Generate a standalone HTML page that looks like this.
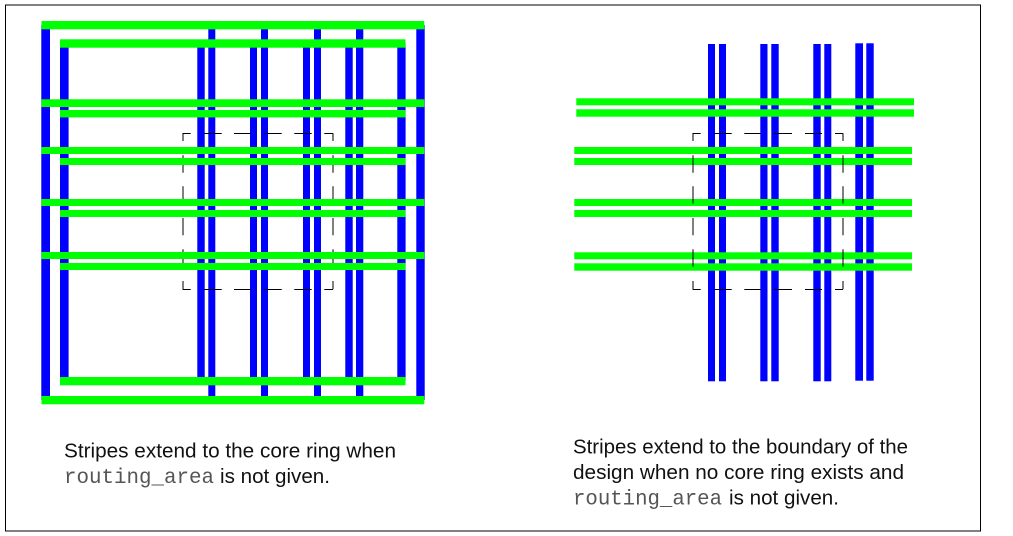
<!DOCTYPE html>
<html lang="en">
<head>
<meta charset="utf-8">
<title>Stripes and core ring diagram</title>
<style>
html,body{margin:0;padding:0;background:#fff;width:1013px;height:536px;overflow:hidden}
svg{display:block}
.s{font-family:"Liberation Sans",Arial,sans-serif;font-size:20.3px;fill:#111}
.m{font-family:"Liberation Mono","Courier New",monospace;font-size:20.8px;fill:#555}
</style>
</head>
<body>
<svg width="1013" height="536" viewBox="0 0 1013 536" xmlns="http://www.w3.org/2000/svg">
<rect x="0" y="0" width="1013" height="536" fill="#fff"/>
<!-- frame -->
<rect x="5" y="4" width="976" height="2" fill="#808080"/>
<rect x="5" y="530" width="976" height="2" fill="#808080"/>
<rect x="5" y="5" width="1" height="526" fill="#000"/>
<rect x="980" y="5" width="1" height="526" fill="#000"/>

<!-- LEFT blue verticals -->
<g fill="#0000ff">
<rect x="41.3" y="25" width="8.7" height="375"/>
<rect x="60" y="43" width="8.6" height="338"/>
<rect x="197.3" y="43" width="7.4" height="338"/>
<rect x="208.3" y="25" width="7" height="375"/>
<rect x="250" y="43" width="7" height="338"/>
<rect x="261" y="25" width="7" height="375"/>
<rect x="303" y="43" width="7" height="338"/>
<rect x="314" y="25" width="7" height="375"/>
<rect x="345.3" y="43" width="7.4" height="338"/>
<rect x="356" y="25" width="7.3" height="375"/>
<rect x="397.3" y="43" width="8.3" height="338"/>
<rect x="416.3" y="25" width="8.4" height="375"/>
</g>
<!-- LEFT dashed box: vertical, under green -->
<g stroke="#808080" stroke-width="2" fill="none">
<path d="M183 133.3V141M183 155.3V172.7M183 186.3V203.6M183 218V235.3M183 249.3V266.6M183 281V289.3"/>
<path d="M333 133.3V141M333 155.3V172.7M333 186.3V203.6M333 218V235.3M333 249.3V266.6M333 281V289.3"/>
</g>
<!-- LEFT green horizontals -->
<g fill="#00ff00">
<rect x="41.5" y="21" width="382.8" height="8.3"/>
<rect x="60" y="39.3" width="345.5" height="8.4"/>
<rect x="41.5" y="99.3" width="382.8" height="7.7"/>
<rect x="60" y="110" width="345.5" height="7.4"/>
<rect x="41.5" y="147" width="382.8" height="7"/>
<rect x="60" y="158" width="345.5" height="7"/>
<rect x="41.5" y="199" width="382.8" height="7"/>
<rect x="60" y="210" width="345.5" height="7"/>
<rect x="41.5" y="252" width="382.8" height="7"/>
<rect x="60" y="263" width="345.5" height="7"/>
<rect x="60" y="377" width="345.5" height="8.3"/>
<rect x="41.5" y="396" width="382.8" height="8.3"/>
</g>
<!-- LEFT dashed box: horizontal -->
<g stroke="#000" stroke-width="1" fill="none">
<path d="M182.7 133.5H190.7M204 133.5H221.7M234 133.5H251M264.3 133.5H281.7M294.3 133.5H311.7M324.3 133.5H333"/>
<path d="M182.7 289.5H190.7M204 289.5H221.7M234 289.5H251M264.3 289.5H281.7M294.3 289.5H311.7M324.3 289.5H333"/>
</g>

<!-- RIGHT blue verticals -->
<g fill="#0000ff">
<rect x="708" y="44" width="7" height="337.3"/>
<rect x="719" y="44" width="7" height="337.3"/>
<rect x="760.3" y="44" width="7.2" height="337.3"/>
<rect x="771.3" y="44" width="7.4" height="337.3"/>
<rect x="813.3" y="44" width="7.4" height="337.3"/>
<rect x="824.3" y="44" width="7" height="337.3"/>
<rect x="855.3" y="43.3" width="7.7" height="337.4"/>
<rect x="866.3" y="43.3" width="7.4" height="337.4"/>
</g>
<!-- RIGHT green horizontals -->
<g fill="#00ff00">
<rect x="576.3" y="98.3" width="337.7" height="7"/>
<rect x="576.3" y="109.3" width="337.7" height="7.4"/>
<rect x="574.3" y="147" width="337.7" height="7"/>
<rect x="574.3" y="158" width="337.7" height="7"/>
<rect x="574.3" y="199" width="337.7" height="7"/>
<rect x="574.3" y="210" width="337.7" height="7"/>
<rect x="574.3" y="252.3" width="337.7" height="7"/>
<rect x="574.3" y="263.3" width="337.7" height="7.4"/>
</g>
<!-- RIGHT dashed box -->
<g stroke="#000" stroke-opacity=".5" stroke-width="2" fill="none">
<path d="M693 133.3V141M693 155.3V172.7M693 186.3V203.6M693 218V235.3M693 249.3V266.6M693 281V289.3"/>
<path d="M843 133.3V141M843 155.3V172.7M843 186.3V203.6M843 218V235.3M843 249.3V266.6M843 281V289.3"/>
</g>
<g stroke="#000" stroke-width="1" fill="none">
<path d="M692.7 133.5H700.7M714.5 133.5H731.7M744.3 133.5H761M774.3 133.5H792M805 133.5H822M835 133.5H843"/>
<path d="M692.7 289.5H700.7M714.5 289.5H731.7M744.3 289.5H761M774.3 289.5H792M805 289.5H822M835 289.5H843"/>
</g>

<!-- captions -->
<text class="s" x="64" y="457.7" textLength="332" lengthAdjust="spacingAndGlyphs">Stripes extend to the core ring when</text>
<text class="m" x="64" y="483" textLength="150" lengthAdjust="spacingAndGlyphs">routing_area</text>
<text class="s" x="220" y="483" textLength="110" lengthAdjust="spacingAndGlyphs">is not given.</text>

<text class="s" x="573" y="453.3" textLength="335" lengthAdjust="spacingAndGlyphs">Stripes extend to the boundary of the</text>
<text class="s" x="573" y="479" textLength="331" lengthAdjust="spacingAndGlyphs">design when no core ring exists and</text>
<text class="m" x="573" y="504.7" textLength="149" lengthAdjust="spacingAndGlyphs">routing_area</text>
<text class="s" x="729" y="504.7" textLength="110" lengthAdjust="spacingAndGlyphs">is not given.</text>
</svg>
</body>
</html>
